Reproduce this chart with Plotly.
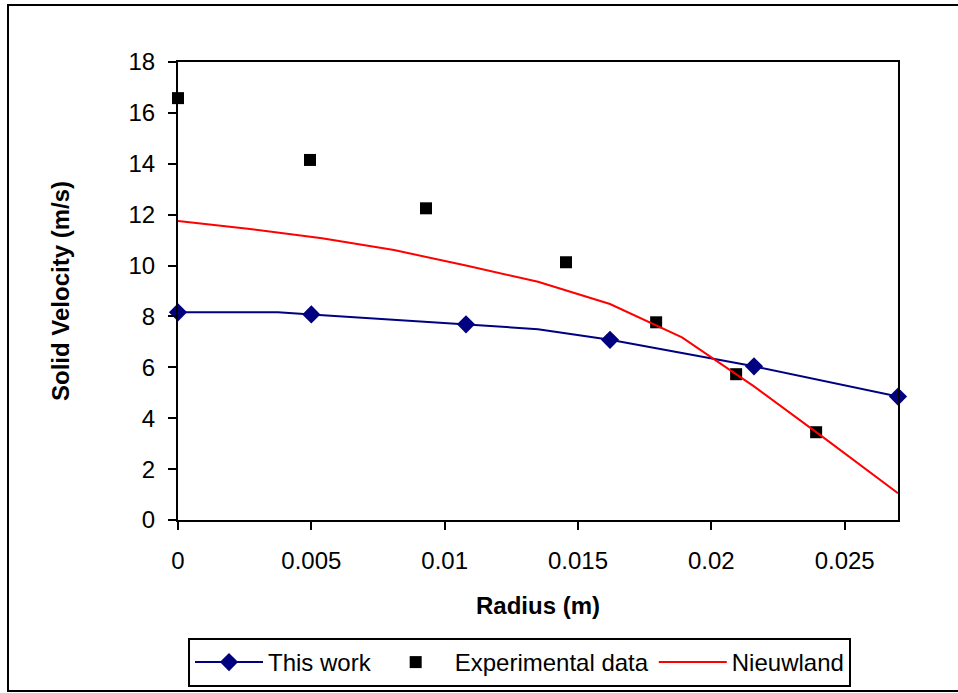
import plotly.graph_objects as go

# ---- data ----
this_work_line_x = [0.0, 0.00375, 0.005, 0.0108, 0.0135, 0.0162, 0.0216, 0.027]
this_work_line_y = [8.16, 8.16, 8.08, 7.69, 7.50, 7.08, 6.04, 4.85]
this_work_x = [0.0, 0.005, 0.0108, 0.0162, 0.0216, 0.027]
this_work_y = [8.16, 8.08, 7.69, 7.08, 6.04, 4.85]

exp_x = [0.0, 0.00495, 0.0093, 0.01455, 0.01793, 0.02093, 0.02393]
exp_y = [16.58, 14.15, 12.25, 10.13, 7.77, 5.73, 3.45]

nieuw_x = [0.0, 0.0027, 0.0054, 0.0081, 0.0108, 0.0135, 0.0162, 0.0189, 0.0216, 0.0243, 0.027]
nieuw_y = [11.75, 11.44, 11.07, 10.61, 10.0, 9.36, 8.49, 7.18, 5.25, 3.17, 1.05]

x_ticks = [0, 0.005, 0.01, 0.015, 0.02, 0.025]
x_tick_labels = ["0", "0.005", "0.01", "0.015", "0.02", "0.025"]
y_ticks = [0, 2, 4, 6, 8, 10, 12, 14, 16, 18]

NAVY = "#000080"
FONT = "Liberation Sans, Arial, sans-serif"
FS = 24

fig = go.Figure()
fig.add_trace(go.Scatter(x=this_work_line_x, y=this_work_line_y, mode="lines",
                         line=dict(color=NAVY, width=2), showlegend=False,
                         hoverinfo="skip"))
fig.add_trace(go.Scatter(x=this_work_x, y=this_work_y, mode="markers",
                         marker=dict(symbol="diamond", size=14, color=NAVY),
                         showlegend=False, cliponaxis=False))
fig.add_trace(go.Scatter(x=[None], y=[None], mode="lines+markers", name="This work",
                         line=dict(color=NAVY, width=2),
                         marker=dict(symbol="diamond", size=14, color=NAVY)))
fig.add_trace(go.Scatter(x=exp_x, y=exp_y, mode="markers", name="Experimental data",
                         marker=dict(symbol="square", size=12, color="black"),
                         cliponaxis=False))
fig.add_trace(go.Scatter(x=nieuw_x, y=nieuw_y, mode="lines", name="Nieuwland",
                         line=dict(color="#FF0000", width=2)))

fig.update_layout(
    width=958, height=693,
    margin=dict(l=178, r=60, t=62, b=173, autoexpand=False),
    paper_bgcolor="white", plot_bgcolor="white",
    font=dict(family=FONT, size=FS, color="black"),
    showlegend=True,
    legend=dict(orientation="h", x=(188 - 178) / 720, y=(520 - 638) / 458,
                xanchor="left", yanchor="top",
                bordercolor="black", borderwidth=2, bgcolor="white",
                font=dict(family=FONT, size=FS, color="black"),
                itemwidth=68, tracegroupgap=0),
    xaxis=dict(range=[0, 0.027], tickvals=x_ticks, ticktext=x_tick_labels,
               automargin=False,
               showgrid=False, zeroline=False, showline=True, linecolor="black",
               linewidth=2, mirror=True, ticks="outside", ticklen=8, tickwidth=2,
               tickcolor="black", tickfont=dict(family=FONT, size=FS),
               ticklabelstandoff=10,
               title=dict(text="<b>Radius (m)</b>", font=dict(family=FONT, size=FS),
                          standoff=24)),
    yaxis=dict(range=[0, 18], tickvals=y_ticks, showgrid=False, zeroline=False,
               automargin=False,
               showline=True, linecolor="black", linewidth=2, mirror=True,
               ticks="outside", ticklen=8, tickwidth=2, tickcolor="black",
               tickfont=dict(family=FONT, size=FS), ticklabelstandoff=8,
               title=dict(text="<b>Solid Velocity (m/s)</b>",
                          font=dict(family=FONT, size=FS), standoff=52)),
    shapes=[dict(type="rect", xref="paper", yref="paper",
                 x0=(8 - 178) / 720, x1=(965 - 178) / 720,
                 y0=(520 - 691) / 458, y1=(520 - 5) / 458,
                 line=dict(color="black", width=2), fillcolor="rgba(0,0,0,0)",
                 layer="below")],
)

fig.write_html("out.html")
